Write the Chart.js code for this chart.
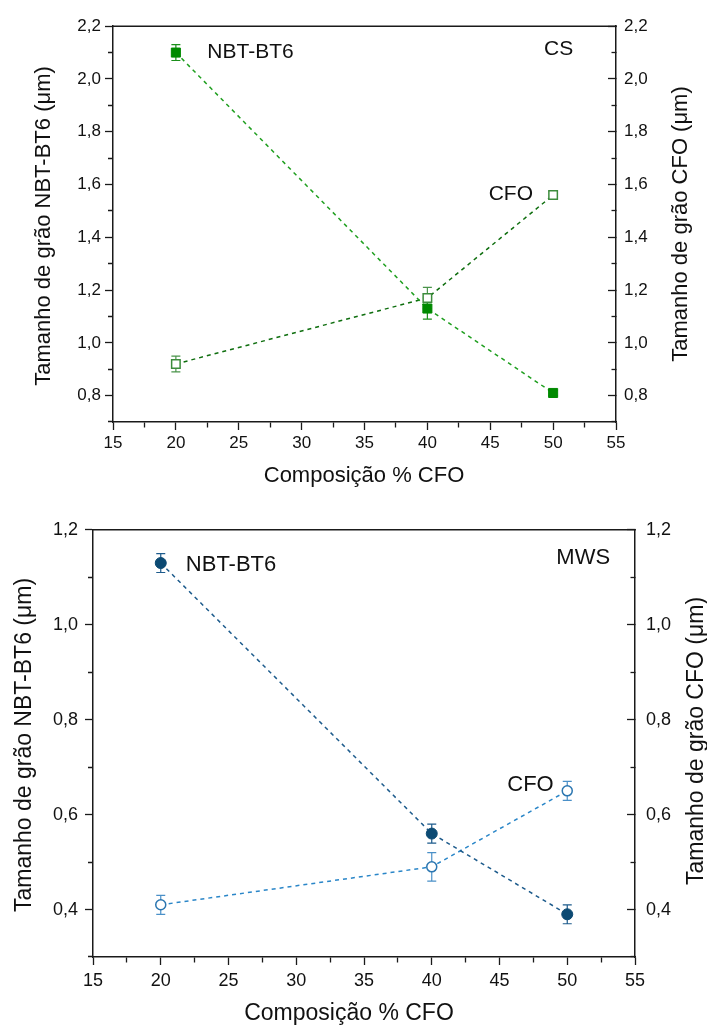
<!DOCTYPE html>
<html>
<head>
<meta charset="utf-8">
<script src="https://cdn.jsdelivr.net/npm/chart.js@4.4.1/dist/chart.umd.min.js"></script>
<style>
  html, body { margin: 0; padding: 0; background: #fff; }
  #wrap { position: relative; width: 707px; height: 1030px; }
  .box { position: absolute; left: 0; width: 707px; }
  #boxCS { top: 0; height: 500px; }
  #boxMWS { top: 500px; height: 530px; }
</style>
</head>
<body>
<div id="wrap">
  <div class="box" id="boxCS"><canvas id="cs"></canvas></div>
  <div class="box" id="boxMWS"><canvas id="mws"></canvas></div>
</div>
<script>
// composição (% CFO)
const composicao = [20, 40, 50];

// sinterização convencional (CS)
const csNbt = [2.10, 1.13, 0.81];
const csNbtErr = [0.03, 0.04, 0.01];
const csCfo = [0.92, 1.17, 1.56];
const csCfoErr = [0.03, 0.04, 0.015];

// micro-ondas (MWS)
const mwsNbt = [1.13, 0.56, 0.39];
const mwsNbtErr = [0.02, 0.02, 0.02];
const mwsCfo = [0.41, 0.49, 0.65];
const mwsCfoErr = [0.02, 0.03, 0.02];

// rótulos dos eixos
const xTicks = [15, 20, 25, 30, 35, 40, 45, 50, 55];
const csTicks = [0.8, 1.0, 1.2, 1.4, 1.6, 1.8, 2.0, 2.2];
const mwsTicks = [0.4, 0.6, 0.8, 1.0, 1.2];

const FONT = '"Liberation Sans", Arial, sans-serif';
const INK = '#111';
const AXIS = '#1a1a1a';

const key = v => Math.round(v * 1000);
const isMajor = (list, v) => list.some(t => key(t) === key(v));

// majors + marcas menores no meio (e uma abaixo do primeiro, se pedido)
function withMinor(list, below) {
  const out = list.slice();
  for (let i = 0; i < list.length - 1; i++) out.push((list[i] + list[i + 1]) / 2);
  if (below) out.push(list[0] - (list[1] - list[0]) / 2);
  return out.sort((a, b) => a - b).map(v => ({ value: v }));
}

const fmt = v => v.toFixed(1).replace('.', ',');

// barras de erro verticais
const errorBars = {
  id: 'errorBars',
  beforeDatasetsDraw(chart) {
    const { ctx } = chart;
    chart.data.datasets.forEach((ds, i) => {
      if (!ds.errors) return;
      const meta = chart.getDatasetMeta(i);
      const ys = meta.yScale;
      ctx.save();
      ctx.strokeStyle = ds.errorColor;
      ctx.lineWidth = 1.2;
      meta.data.forEach((pt, j) => {
        const v = ds.data[j].y, e = ds.errors[j];
        const top = ys.getPixelForValue(v + e);
        const bot = ys.getPixelForValue(v - e);
        const cap = 4.5;
        ctx.beginPath();
        ctx.moveTo(pt.x, top); ctx.lineTo(pt.x, bot);
        ctx.moveTo(pt.x - cap, top); ctx.lineTo(pt.x + cap, top);
        ctx.moveTo(pt.x - cap, bot); ctx.lineTo(pt.x + cap, bot);
        ctx.stroke();
      });
      ctx.restore();
    });
  }
};

// linha superior da moldura, títulos dos eixos e anotações
const decor = {
  id: 'decor',
  afterDraw(chart, args, o) {
    const { ctx, chartArea: a, scales } = chart;
    ctx.save();
    ctx.strokeStyle = AXIS;
    ctx.lineWidth = 1.5;
    ctx.beginPath();
    ctx.moveTo(a.left - 0.75, a.top);
    ctx.lineTo(a.right + 0.75, a.top);
    ctx.stroke();

    ctx.fillStyle = INK;
    ctx.textBaseline = 'alphabetic';
    ctx.font = o.titleSize + 'px ' + FONT;
    ctx.textAlign = 'center';
    for (const t of o.titles) {
      ctx.save();
      ctx.translate(t.x, t.y);
      ctx.rotate(t.rot || 0);
      ctx.fillText(t.text, 0, 0);
      ctx.restore();
    }

    ctx.font = o.noteSize + 'px ' + FONT;
    for (const n of o.notes) {
      ctx.textAlign = n.align;
      ctx.fillText(n.text, scales.x.getPixelForValue(n.x), scales.y.getPixelForValue(n.y));
    }
    ctx.restore();
  }
};

function yAxis(p, side) {
  const left = side === 'left';
  return {
    type: 'linear',
    position: side,
    min: p.yMin,
    max: p.yMax,
    afterBuildTicks: s => { s.ticks = withMinor(p.yTicks, true); },
    afterFit: s => { s.width = left ? p.leftW : p.rightW; },
    ticks: {
      autoSkip: false,
      padding: left ? p.yPad : p.y2Pad,
      color: INK,
      font: { family: FONT, size: p.tickSize },
      callback: v => isMajor(p.yTicks, v) ? fmt(v) : ''
    },
    grid: {
      drawOnChartArea: false,
      tickLength: left ? 8 : -8,
      tickColor: AXIS,
      tickWidth: 1.3,
      tickBorderDash: c => (c.tick && isMajor(p.yTicks, c.tick.value)) ? [] : (left ? [0, 3, 5, 100] : [5, 100])
    },
    border: { color: AXIS, width: 1.5 }
  };
}

function build(id, p) {
  return new Chart(document.getElementById(id), {
    type: 'scatter',
    data: {
      datasets: [
        {
          label: 'NBT-BT6',
          data: composicao.map((x, i) => ({ x, y: p.nbt[i] })),
          errors: p.nbtErr,
          errorColor: p.nbtErrColor,
          yAxisID: 'y',
          showLine: true,
          borderColor: p.nbtLine,
          borderWidth: 1.5,
          borderDash: [4, 4],
          pointStyle: p.shape,
          pointRadius: p.nbtR,
          pointBackgroundColor: p.nbtFill,
          pointBorderColor: p.nbtFill,
          pointBorderWidth: 1
        },
        {
          label: 'CFO',
          data: composicao.map((x, i) => ({ x, y: p.cfo[i] })),
          errors: p.cfoErr,
          errorColor: p.cfoErrColor,
          yAxisID: 'y2',
          showLine: true,
          borderColor: p.cfoLine,
          borderWidth: 1.5,
          borderDash: [4, 4],
          pointStyle: p.shape,
          pointRadius: p.cfoR,
          pointBackgroundColor: '#fff',
          pointBorderColor: p.cfoEdge,
          pointBorderWidth: 1.5
        }
      ]
    },
    options: {
      responsive: true,
      maintainAspectRatio: false,
      devicePixelRatio: 1,
      animation: false,
      layout: { padding: { top: p.padTop, left: 0, right: 0, bottom: 0 } },
      plugins: {
        legend: { display: false },
        tooltip: { enabled: false },
        decor: { titleSize: p.titleSize, noteSize: p.noteSize, titles: p.titles, notes: p.notes }
      },
      scales: {
        x: {
          type: 'linear',
          min: 15,
          max: 55,
          afterBuildTicks: s => { s.ticks = withMinor(xTicks, false); },
          afterFit: s => { s.height = p.xHeight; },
          ticks: {
            autoSkip: false,
            maxRotation: 0,
            padding: p.xPad,
            color: INK,
            font: { family: FONT, size: p.tickSize },
            callback: v => isMajor(xTicks, v) ? String(v) : ''
          },
          grid: {
            drawOnChartArea: false,
            tickLength: 8,
            tickColor: AXIS,
            tickWidth: 1.3,
            tickBorderDash: c => (c.tick && isMajor(xTicks, c.tick.value)) ? [] : [5, 100]
          },
          border: { color: AXIS, width: 1.5 }
        },
        y: yAxis(p, 'left'),
        y2: yAxis(p, 'right')
      }
    },
    plugins: [errorBars, decor]
  });
}

const HALF = -Math.PI / 2;

build('cs', {
  nbt: csNbt, nbtErr: csNbtErr, cfo: csCfo, cfoErr: csCfoErr,
  yMin: 0.7, yMax: 2.2, yTicks: csTicks,
  shape: 'rect', nbtR: 6.4, cfoR: 6,
  nbtFill: '#008a00', nbtLine: '#1f9f1f', nbtErrColor: '#1a8f1a',
  cfoEdge: '#3c8c3c', cfoLine: '#0e6e0e', cfoErrColor: '#4a944a',
  padTop: 23, leftW: 113, rightW: 91, xHeight: 78,
  tickSize: 17, yPad: 4, y2Pad: 16, xPad: 3,
  titleSize: 22, noteSize: 21,
  titles: [
    { text: 'Tamanho de grão NBT-BT6 (μm)', x: 50, y: 226, rot: HALF },
    { text: 'Tamanho de grão CFO (μm)', x: 687, y: 224, rot: HALF },
    { text: 'Composição % CFO', x: 364, y: 482 }
  ],
  notes: [
    { text: 'NBT-BT6', x: 22.5, y: 2.08, align: 'left' },
    { text: 'CS', x: 51.6, y: 2.089, align: 'right' },
    { text: 'CFO', x: 48.4, y: 1.54, align: 'right' }
  ]
});

build('mws', {
  nbt: mwsNbt, nbtErr: mwsNbtErr, cfo: mwsCfo, cfoErr: mwsCfoErr,
  yMin: 0.3, yMax: 1.2, yTicks: mwsTicks,
  shape: 'circle', nbtR: 5.5, cfoR: 5,
  nbtFill: '#0c4a73', nbtLine: '#1d5b8c', nbtErrColor: '#1d5b8c',
  cfoEdge: '#2b76b0', cfoLine: '#2a86c8', cfoErrColor: '#4a90c8',
  padTop: 25, leftW: 93, rightW: 72, xHeight: 73,
  tickSize: 18, yPad: 7, y2Pad: 19, xPad: 5,
  titleSize: 23, noteSize: 22,
  titles: [
    { text: 'Tamanho de grão NBT-BT6 (μm)', x: 31, y: 745, rot: HALF },
    { text: 'Tamanho de grão CFO (μm)', x: 703, y: 741, rot: HALF },
    { text: 'Composição % CFO', x: 349, y: 520 }
  ].map(t => t.rot ? { ...t, y: t.y - 500 } : t),
  notes: [
    { text: 'NBT-BT6', x: 21.85, y: 1.113, align: 'left' },
    { text: 'MWS', x: 53.16, y: 1.129, align: 'right' },
    { text: 'CFO', x: 49.0, y: 0.650, align: 'right' }
  ]
});
</script>
</body>
</html>
